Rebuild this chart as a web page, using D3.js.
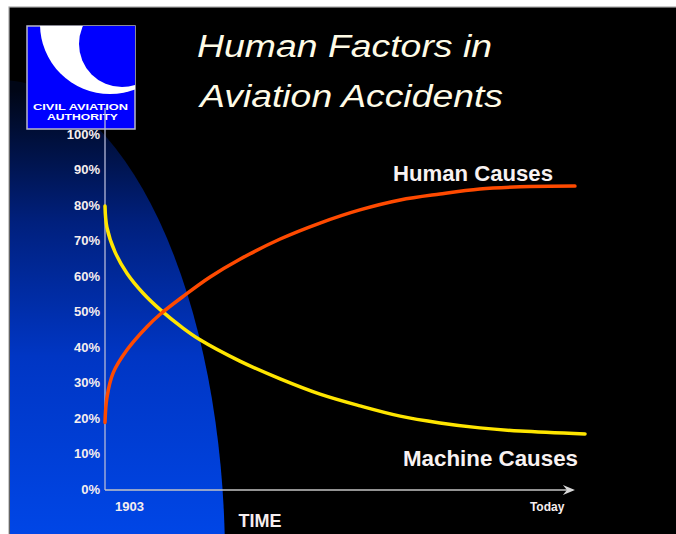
<!DOCTYPE html>
<meta charset="utf-8">
<head>
<style>
body { margin: 0; background: #fff; }
svg text { font-family: "Liberation Sans", Arial, sans-serif; }
.tick text { fill: #f6eeee; font-weight: bold; }
</style>
</head>
<body>
<script src="https://cdnjs.cloudflare.com/ajax/libs/d3/7.8.5/d3.min.js"></script>
<script>
// ---------------- data ----------------
var yTicks = [0, 10, 20, 30, 40, 50, 60, 70, 80, 90, 100];
var xTickLabels = ["1903", "Today"];
var xTickAt = [5, 92];          // position on the 0..100 time axis

var humanT   = [0, 0.4, 1.7, 4.6, 8.75, 11.5, 16.25, 21.9, 28.1, 36.5, 44.8, 53.1, 61.5, 69.8, 78.1, 86.5, 97.9];
var humanPct = [19, 26, 33, 39.5, 46, 49.5, 54.5, 60, 65, 70.7, 75.2, 78.9, 81.7, 83.4, 84.8, 85.4, 85.6];

var machineT   = [0, 0.4, 2.1, 4.6, 7.9, 11.5, 16.25, 19.8, 28.1, 36.5, 44.8, 53.1, 61.5, 69.8, 78.1, 86.5, 100];
var machinePct = [80, 74, 67, 61, 55.5, 50.8, 45.6, 42.3, 36.3, 31.3, 27, 23.7, 20.8, 18.9, 17.5, 16.6, 15.8];

// ---------------- svg ----------------
var width = 676, height = 534;
var svg = d3.select("body").append("svg")
    .attr("width", width)
    .attr("height", height);

var defs = svg.append("defs");
var grad = defs.append("linearGradient")
    .attr("id", "blueFade")
    .attr("gradientUnits", "userSpaceOnUse")
    .attr("x1", 0).attr("y1", 90).attr("x2", 0).attr("y2", 534);
grad.append("stop").attr("offset", 0).attr("stop-color", "#000616");
grad.append("stop").attr("offset", 0.3).attr("stop-color", "#00207e");
grad.append("stop").attr("offset", 0.6).attr("stop-color", "#0036c4");
grad.append("stop").attr("offset", 1).attr("stop-color", "#0046e6");

defs.append("clipPath").attr("id", "slideClip")
  .append("rect").attr("x", 10).attr("y", 8).attr("width", 666).attr("height", 526);
defs.append("clipPath").attr("id", "logoClip")
  .append("rect").attr("x", 27).attr("y", 26).attr("width", 108).attr("height", 103);

// slide background
svg.append("rect")
    .attr("x", 9).attr("y", 7)
    .attr("width", 680).attr("height", 540)
    .attr("fill", "#000")
    .attr("stroke", "#a8a8a8")
    .attr("stroke-width", 1.2);

// blue quarter-ellipse behind the plot
svg.append("ellipse")
    .attr("clip-path", "url(#slideClip)")
    .attr("cx", 0).attr("cy", 560)
    .attr("rx", 225).attr("ry", 480)
    .attr("fill", "url(#blueFade)");

// ---------------- logo ----------------
var logo = svg.append("g");
logo.append("rect")
    .attr("x", 27).attr("y", 26).attr("width", 108).attr("height", 103)
    .attr("fill", "#0000ff")
    .attr("stroke", "#b8b8c8").attr("stroke-width", 1.5);
var moon = logo.append("g").attr("clip-path", "url(#logoClip)");
moon.append("circle").attr("cx", 110).attr("cy", 24).attr("r", 70).attr("fill", "#fff");
moon.append("circle").attr("cx", 122).attr("cy", 44).attr("r", 43).attr("fill", "#0000ff");
logo.append("text")
    .attr("x", 33).attr("y", 110)
    .attr("textLength", 95).attr("lengthAdjust", "spacingAndGlyphs")
    .attr("font-size", 8.5).attr("font-weight", "bold").attr("fill", "#fff")
    .text("CIVIL AVIATION");
logo.append("text")
    .attr("x", 47).attr("y", 120)
    .attr("textLength", 71).attr("lengthAdjust", "spacingAndGlyphs")
    .attr("font-size", 8.5).attr("font-weight", "bold").attr("fill", "#fff")
    .text("AUTHORITY");

// ---------------- title ----------------
svg.append("text")
    .attr("x", 197).attr("y", 57)
    .attr("textLength", 295).attr("lengthAdjust", "spacingAndGlyphs")
    .attr("font-size", 31).attr("font-style", "italic").attr("fill", "#fffbe6")
    .text("Human Factors in");
svg.append("text")
    .attr("x", 200).attr("y", 107)
    .attr("textLength", 303).attr("lengthAdjust", "spacingAndGlyphs")
    .attr("font-size", 31).attr("font-style", "italic").attr("fill", "#fffbe6")
    .text("Aviation Accidents");

// ---------------- scales ----------------
var xScale = d3.scaleLinear().domain([0, 100]).range([105, 585]);
var yScale = d3.scaleLinear().domain([0, 100]).range([490, 135]);

// ---------------- axes ----------------
var yAxis = d3.axisLeft(yScale)
    .tickValues(yTicks)
    .tickSize(0)
    .tickPadding(5)
    .tickFormat(function(d) { return d + "%"; });

svg.append("g")
    .attr("transform", "translate(105,-1)")
    .call(yAxis)
    .call(function(g) { g.select(".domain").remove(); })
    .selectAll("text")
    .attr("font-size", 13);

var xAxis = d3.axisBottom(xScale)
    .tickValues(xTickAt)
    .tickSize(0)
    .tickPadding(12)
    .tickFormat(function(d, i) { return xTickLabels[i]; });

svg.append("g")
    .attr("transform", "translate(0," + yScale(0) + ")")
    .call(xAxis)
    .call(function(g) { g.select(".domain").remove(); })
    .selectAll("text")
    .attr("font-size", function(d, i) { return i === 0 ? 13 : 12; });

// axis lines (vertical runs up into the logo like the slide)
svg.append("line")
    .attr("x1", xScale(0)).attr("x2", xScale(0))
    .attr("y1", 108).attr("y2", yScale(0))
    .attr("stroke", "#b4b8d8").attr("stroke-width", 1.3);

var arrowEnd = xScale(97.9);
svg.append("line")
    .attr("x1", xScale(0)).attr("x2", arrowEnd - 2)
    .attr("y1", yScale(0)).attr("y2", yScale(0))
    .attr("stroke", "#c4c4c4").attr("stroke-width", 1.5);
svg.append("path")
    .attr("d", "M" + (arrowEnd - 12) + "," + (yScale(0) - 5) +
               " L" + arrowEnd + "," + yScale(0) +
               " L" + (arrowEnd - 12) + "," + (yScale(0) + 5) +
               " L" + (arrowEnd - 8) + "," + yScale(0) + " Z")
    .attr("fill", "#d8d8d8");

svg.append("text")
    .attr("x", 260).attr("y", 527)
    .attr("text-anchor", "middle")
    .attr("font-size", 18).attr("font-weight", "bold").attr("fill", "#f6eeee")
    .text("TIME");

// ---------------- lines ----------------
var line = d3.line()
    .x(function(d) { return xScale(d.t); })
    .y(function(d) { return yScale(d.v); })
    .curve(d3.curveCatmullRom.alpha(0.5));

var human = humanT.map(function(t, i) { return {t: t, v: humanPct[i]}; });
var machine = machineT.map(function(t, i) { return {t: t, v: machinePct[i]}; });

svg.append("path")
    .datum(machine)
    .attr("d", line)
    .attr("fill", "none")
    .attr("stroke", "#ffe600")
    .attr("stroke-width", 3.5)
    .attr("stroke-linecap", "round");

svg.append("path")
    .datum(human)
    .attr("d", line)
    .attr("fill", "none")
    .attr("stroke", "#ff4a00")
    .attr("stroke-width", 3.5)
    .attr("stroke-linecap", "round");

// series labels
svg.append("text")
    .attr("x", 393).attr("y", 181)
    .attr("textLength", 160).attr("lengthAdjust", "spacingAndGlyphs")
    .attr("font-size", 22).attr("font-weight", "bold").attr("fill", "#f8f2f2")
    .text("Human Causes");
svg.append("text")
    .attr("x", 403).attr("y", 466)
    .attr("textLength", 175).attr("lengthAdjust", "spacingAndGlyphs")
    .attr("font-size", 22).attr("font-weight", "bold").attr("fill", "#f8f2f2")
    .text("Machine Causes");
</script>
</body>
</html>
